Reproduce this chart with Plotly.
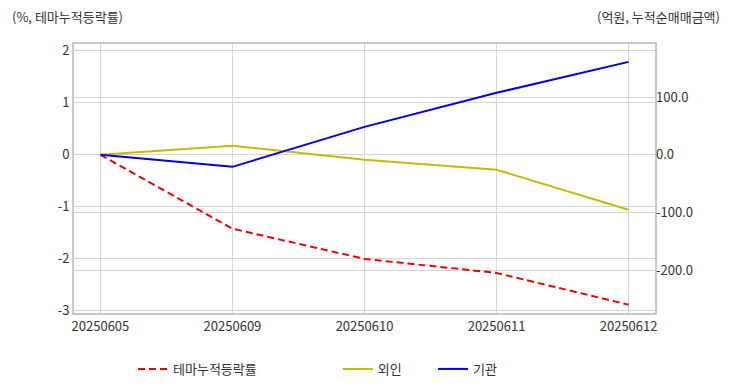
import plotly.graph_objects as go

dates = ["20250605", "20250609", "20250610", "20250611", "20250612"]
theme_ret = [0.0, -1.42, -2.0, -2.27, -2.88]
foreign = [0.0, 15.6, -8.7, -26.0, -95.0]
institution = [0.0, -20.8, 48.5, 107.5, 161.0]

left_ticks = [2, 1, 0, -1, -2, -3]
left_labels = ["2", "1", "0", "-1", "-2", "-3"]
right_ticks = [100, 0, -100, -200]
right_labels = ["100.0", "0.0", "-100.0", "-200.0"]

FONT = "Noto Sans CJK KR"
GRID = "#d4d4d4"
TXT = "#333333"
FS = 13

fig = go.Figure()
fig.add_trace(go.Scatter(x=dates, y=theme_ret, name="테마누적등락률", mode="lines",
                         line=dict(color="#ee0000", width=2, dash="7px,4px"),
                         yaxis="y", legend="legend", showlegend=True))
fig.add_trace(go.Scatter(x=dates, y=foreign, name="외인", mode="lines",
                         line=dict(color="#c4bc00", width=2),
                         yaxis="y2", legend="legend2", showlegend=True))
fig.add_trace(go.Scatter(x=dates, y=institution, name="기관", mode="lines",
                         line=dict(color="#0000ee", width=2),
                         yaxis="y2", legend="legend3", showlegend=True))

leg_common = dict(orientation="h", yanchor="middle", yref="container", y=0.04,
                  xanchor="left", bgcolor="rgba(0,0,0,0)",
                  font=dict(family=FONT, size=FS, color=TXT))

fig.update_layout(
    width=716, height=376,
    margin=dict(l=66, r=69, t=36, b=71),
    showlegend=True,
    paper_bgcolor="white", plot_bgcolor="white",
    font=dict(family=FONT, size=FS, color=TXT),
    xaxis=dict(type="category", range=[-0.2, 4.2], showgrid=True, gridcolor=GRID,
               gridwidth=1, showline=True, linecolor="#c8c8c8", linewidth=2, mirror=True,
               ticks="", tickfont=dict(family=FONT, size=FS, color=TXT), zeroline=False,
               automargin=False),
    yaxis=dict(range=[-3.04, 2.13], tickvals=left_ticks, ticktext=left_labels,
               showgrid=True, gridcolor=GRID,
               showline=True, linecolor="#c8c8c8", linewidth=2, mirror=True,
               zeroline=False, ticks="", tickfont=dict(family=FONT, size=FS, color=TXT),
               automargin=False),
    yaxis2=dict(range=[-274, 192], tickvals=right_ticks, ticktext=right_labels,
                overlaying="y", side="right", showgrid=True, gridcolor=GRID,
                zeroline=False, ticks="", tickfont=dict(family=FONT, size=FS, color=TXT),
                automargin=False),
    legend=dict(x=0.1016, **leg_common),
    legend2=dict(x=0.454, **leg_common),
    legend3=dict(x=0.618, **leg_common),
    annotations=[
        dict(text="(%, 테마누적등락률)", xref="paper", yref="paper", x=-0.110, y=1.104,
             xanchor="left", yanchor="middle", showarrow=False,
             font=dict(family=FONT, size=FS, color=TXT)),
        dict(text="(억원, 누적순매매금액)", xref="paper", yref="paper", x=1.1153, y=1.104,
             xanchor="right", yanchor="middle", showarrow=False,
             font=dict(family=FONT, size=FS, color=TXT)),
    ],
)

fig.write_html("out.html")
